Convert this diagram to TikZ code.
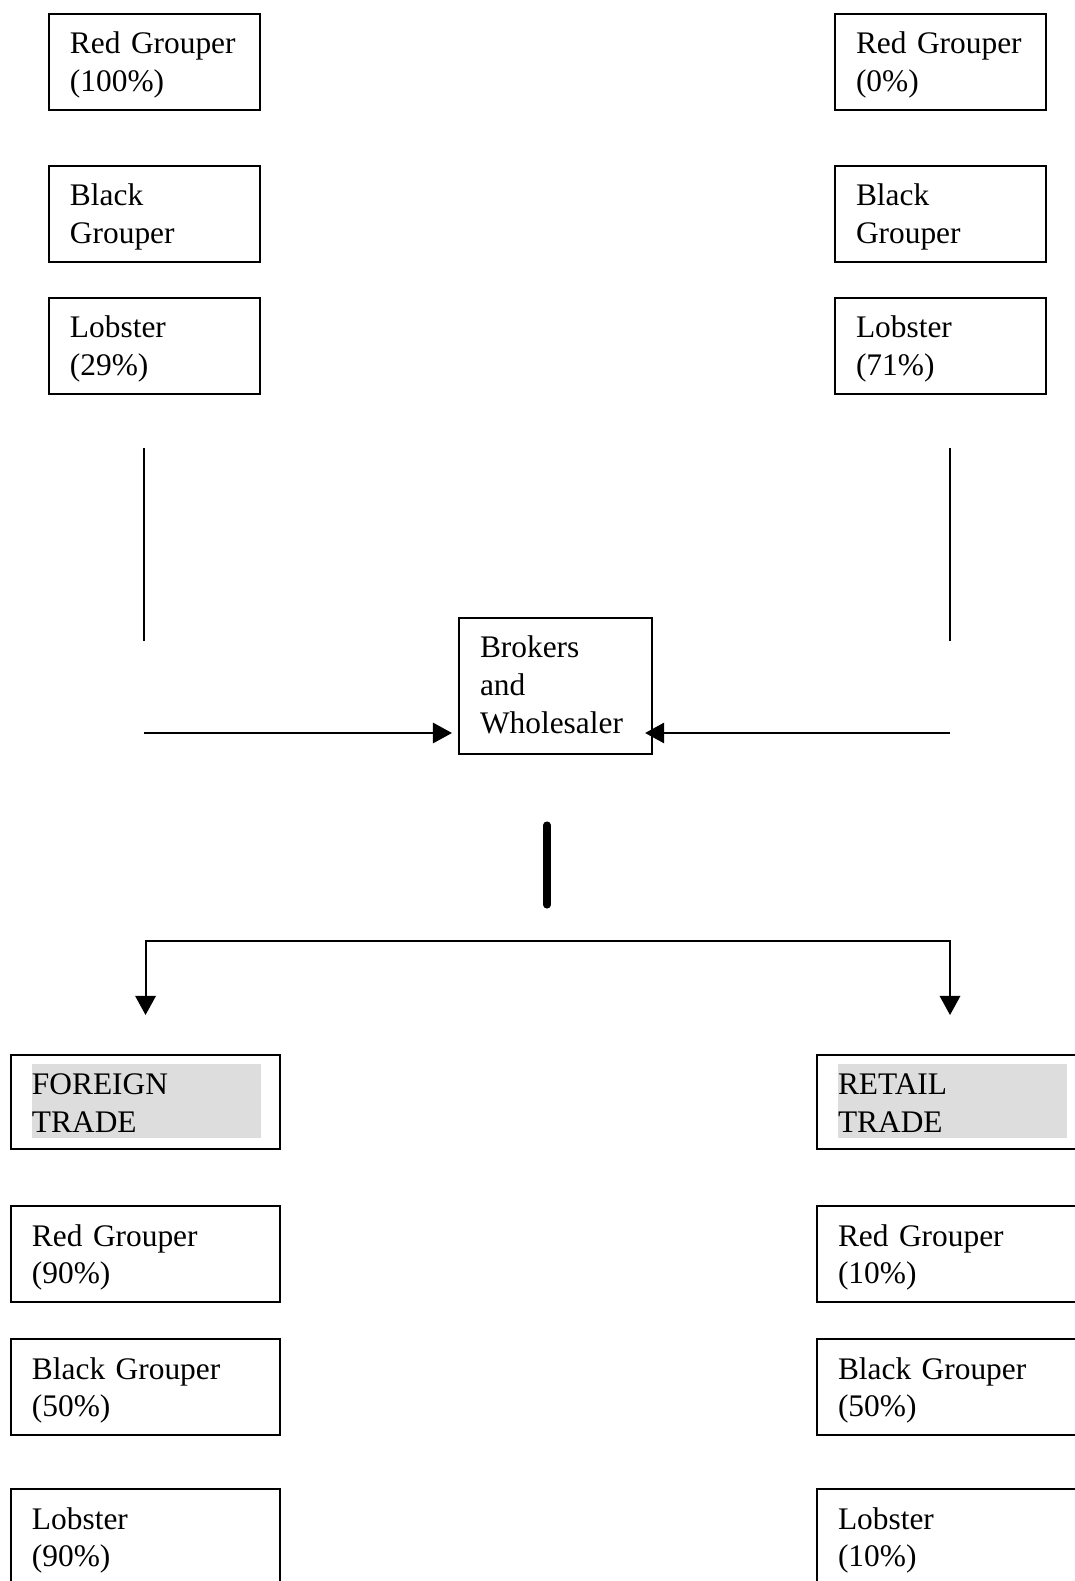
\documentclass[tikz,border=0pt]{standalone}
\usepackage{fontspec}
\setmainfont{Liberation Serif}
\usepackage{tikz}
\usetikzlibrary{arrows.meta}
\definecolor{tradegray}{HTML}{DDDDDD}
\tikzstyle{box}=[
	draw=black,
	line width=0.75pt,
	anchor=north west,
	align=left,
	inner xsep=8.03pt,
	inner ysep=0pt,
	text height=15.29pt,
	text depth=21.40pt,
	font=\fontsize{12}{14.5}\selectfont
]
\tikzstyle{topbox}=[box, text width=64.6pt]
\tikzstyle{lowbox}=[box, text width=86.8pt]
\tikzstyle{tradebox}=[
	lowbox,
	text depth=20.64pt,
	path picture={\fill[tradegray] ([xshift=8.03pt,yshift=-3.44pt]path picture bounding box.north west) rectangle ([xshift=95.55pt,yshift=-31.72pt]path picture bounding box.north west);}
]

\begin{document}
\begin{tikzpicture}[x=0.3822pt,y=-0.3822pt,line width=0.75pt,>={Triangle[length=7.3pt,width=7.8pt]}]
\useasboundingbox (0,0) rectangle (1074,1581);

% Catch on the left
\node[topbox] (lrg) at (48,13){Red Grouper\\(100\%)};
\node[topbox] (lbg) at (48,165){Black\\Grouper};
\node[topbox] (llb) at (48,297){Lobster\\(29\%)};

% Catch on the right
\node[topbox] (rrg) at (834,13){Red Grouper\\(0\%)};
\node[topbox] (rbg) at (834,165){Black\\Grouper};
\node[topbox] (rlb) at (834,297){Lobster\\(71\%)};

% Brokers and wholesaler
\node[box, text width=57.7pt, text depth=36.69pt] (bw) at (458,617){Brokers\\and\\Wholesaler};

% Foreign trade
\node[tradebox] (ft) at (10,1054){FOREIGN\\TRADE};
\node[lowbox] (frg) at (10,1205){Red Grouper\\(90\%)};
\node[lowbox] (fbg) at (10,1338){Black Grouper\\(50\%)};
\node[lowbox, text depth=45pt] (flb) at (10,1488){Lobster\\(90\%)};

% Retail trade (cut at the right edge)
\node[tradebox, text width=110pt] (rt) at (816,1054){RETAIL\\TRADE};
\node[lowbox, text width=110pt] (trg) at (816,1205){Red Grouper\\(10\%)};
\node[lowbox, text width=110pt] (tbg) at (816,1338){Black Grouper\\(50\%)};
\node[lowbox, text width=110pt, text depth=45pt] (tlb) at (816,1488){Lobster\\(10\%)};

% Free line ends
\coordinate (lt) at (144,448);
\coordinate (lb) at (144,641);
\coordinate (la) at (144,733);
\coordinate (rt1) at (950,448);
\coordinate (rb) at (950,641);
\coordinate (ra) at (950,733);
\coordinate (st) at (547,825);
\coordinate (sb) at (547,905);
\coordinate (fork) at (547,941);

% Lines down to the brokers
\draw (lt) -- (lb);
\draw (rt1) -- (rb);
\draw[->, shorten >=2.3pt] (la) -- (la -| bw.west);
\draw[->, shorten >=-3pt] (ra) -- (ra -| bw.east);

% Thick bar
\draw[line width=2.7pt, line cap=round] (st) -- (sb);

% Split to the trades
\draw[->] (fork) -| ([yshift=14.9pt]ft.north);
\draw[->] (fork) -| ([yshift=14.9pt]ft.north -| rt1);

\end{tikzpicture}
\end{document}
